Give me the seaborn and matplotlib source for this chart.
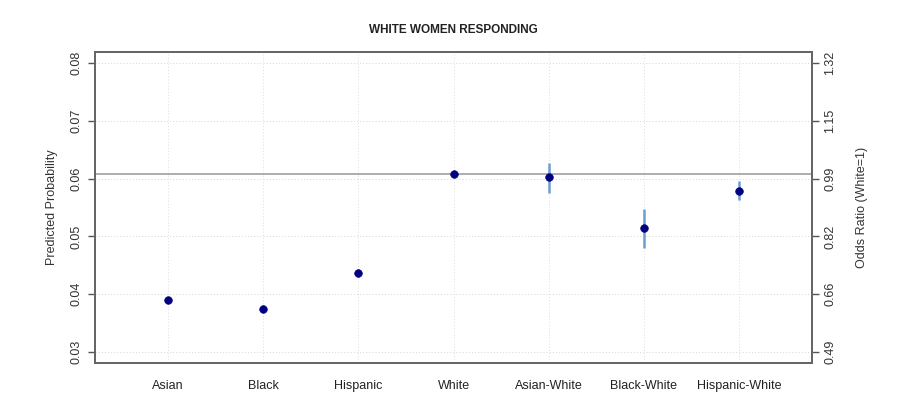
import matplotlib
matplotlib.use("Agg")
import matplotlib.pyplot as plt
import seaborn as sns
import numpy as np
import pandas as pd

categories = ["Asian", "Black", "Hispanic", "White", "Asian-White", "Black-White", "Hispanic-White"]
prob = [0.0390, 0.0375, 0.0437, 0.0608, 0.0602, 0.0514, 0.0579]
lower = [0.0384, 0.0369, 0.0430, 0.0608, 0.0575, 0.0480, 0.0563]
upper = [0.0396, 0.0381, 0.0444, 0.0608, 0.0627, 0.0547, 0.0596]
ref_value = 0.0608
left_ticks = [0.03, 0.04, 0.05, 0.06, 0.07, 0.08]
left_labels = ["0.03", "0.04", "0.05", "0.06", "0.07", "0.08"]
right_labels = ["0.49", "0.66", "0.82", "0.99", "1.15", "1.32"]

df = pd.DataFrame({"group": categories, "prob": prob, "lower": lower, "upper": upper})

sns.set_style("white")
plt.rcParams['font.family'] = ['Liberation Sans', 'DejaVu Sans']

fig = plt.figure(figsize=(9.11, 4.16), dpi=100)
ax = fig.add_axes([95/911, 1 - 363/416, (812-95)/911, (363-52)/416])

ax.set_xlim(-0.77, 6.77)
ax.set_ylim(0.0281, 0.0819)

# grid
for yt in left_ticks:
    ax.axhline(yt, color="#dcdcdc", lw=0.7, ls=(0, (1.2, 2)), zorder=0)
for i in range(len(categories)):
    ax.axvline(i, color="#e2e2e2", lw=0.7, ls=(0, (1.2, 2)), zorder=0)

ax.axhline(ref_value, color="#a0a0a0", lw=1.2, zorder=1)

x = np.arange(len(categories))
ax.vlines(x, df["lower"], df["upper"], color="#6a9fcf", lw=1.8, zorder=2)
sns.scatterplot(data=df, x="group", y="prob", ax=ax, color="#000080", s=30,
                edgecolor="#000080", linewidth=0.5, zorder=3, legend=False)
ax.set_xlim(-0.77, 6.77)
ax.set_ylim(0.0281, 0.0819)

ax.set_xticks(x)
ax.set_xticklabels(categories, fontsize=9)
ax.tick_params(axis="x", length=0, pad=12, colors="#222222")
ax.set_yticks(left_ticks)
ax.set_yticklabels(left_labels, rotation=90, va="center", fontsize=9)
ax.tick_params(axis="y", length=5, width=1, color="#555555", direction="out", pad=4, labelcolor="#333333")
ax.set_xlabel("")
ax.set_ylabel("Predicted Probability", fontsize=9, labelpad=9, color="#333333")

ax2 = ax.twinx()
ax2.set_ylim(ax.get_ylim())
ax2.set_yticks(left_ticks)
ax2.set_yticklabels(right_labels, rotation=90, va="center", fontsize=9)
ax2.tick_params(axis="y", length=5, width=1, color="#555555", direction="out", pad=4, labelcolor="#333333")
ax2.set_ylabel("Odds Ratio (White=1)", fontsize=9, labelpad=14, color="#333333")

for a in (ax, ax2):
    for sp in a.spines.values():
        sp.set_color("#666666")
        sp.set_linewidth(1.4)
        sp.set_visible(True)

fig.text(453/911, 1 - 30/416, "WHITE WOMEN RESPONDING", ha="center", va="center",
         fontsize=8.5, fontweight="bold", color="#222222")

fig.savefig("out.png", dpi=100, facecolor="white")
